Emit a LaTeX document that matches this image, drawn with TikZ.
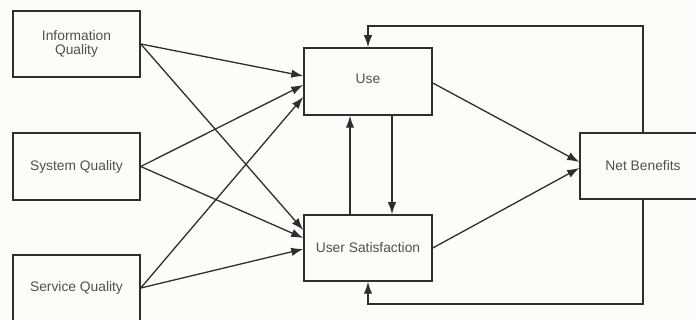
\documentclass[tikz,border=0pt]{standalone}
\usepackage{fontspec}
\setmainfont{Liberation Sans}
\usetikzlibrary{arrows.meta,calc}
\definecolor{bg}{HTML}{FCFCF8}
\definecolor{ln}{HTML}{2E2E2E}
\definecolor{tx}{HTML}{505050}
\tikzset{
  box/.style={draw=ln, line width=1.5pt, fill=bg, minimum width=127pt, minimum height=66pt, inner sep=0pt, align=center, text=tx, font=\fontsize{13.8}{14}\selectfont},
  arr/.style={draw=ln, line width=1.3pt, -{Latex[length=12pt,width=8.5pt]}},
  plainln/.style={draw=ln, line width=1.3pt}
}
\begin{document}
\begin{tikzpicture}[x=1pt,y=-1pt]
\fill[bg] (0,0) rectangle (696,320);
\useasboundingbox (0,0) rectangle (696,320);
\begin{scope}
\clip (0,0) rectangle (696,320);
\node[box] (iq) at (76.5,44) {Information\\Quality};
\node[box, minimum height=67pt] (sq) at (76.5,166.5) {System Quality};
\node[box] (svq) at (76.5,288) {Service Quality};
\node[box, minimum width=128pt, minimum height=67pt] (use) at (368,81.5) {\raisebox{6pt}{Use}};
\node[box, minimum width=128pt] (us) at (368,248) {User Satisfaction};
\node[box, minimum width=126pt] (nb) at (643,166) {Net Benefits};
\coordinate (fbtop) at (500,26);
\coordinate (fbbot) at (500,304);
\end{scope}
% inputs to Use
\draw[arr] (iq.east) -- ([yshift=5.5pt]use.west);
\draw[arr] (sq.east) -- ([yshift=-3.5pt]use.west);
\draw[arr] (svq.east) -- ([yshift=-15.5pt]use.west);
% inputs to User Satisfaction
\draw[arr] (iq.east) -- ([yshift=18pt]us.west);
\draw[arr] (sq.east) -- ([yshift=10pt]us.west);
\draw[arr] (svq.east) -- ([yshift=-1pt]us.west);
% Use <-> User Satisfaction
\draw[arr] ([xshift=-18pt]us.north) -- ([xshift=-18pt]use.south);
\draw[arr] ([xshift=24pt]use.south) -- ([xshift=24pt]us.north);
% to Net Benefits
\draw[arr] ([yshift=-1.5pt]use.east) -- ([yshift=4pt]nb.west);
\draw[arr] (us.east) -- ([yshift=-2pt]nb.west);
% feedback loops
\draw[arr] (nb.north) |- (fbtop) -| (use.north);
\draw[arr] (nb.south) |- (fbbot) -| (us.south);
\end{tikzpicture}
\end{document}
